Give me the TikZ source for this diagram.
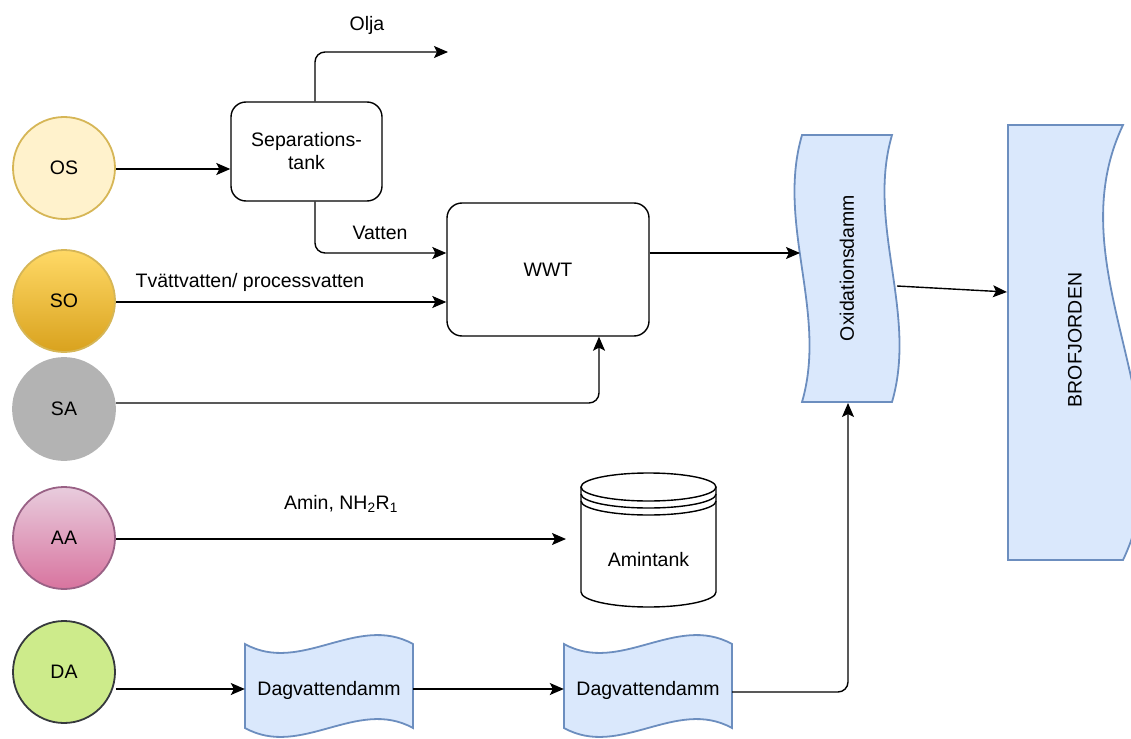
\documentclass[tikz,border=0pt]{standalone}
\usepackage{fontspec}
\setmainfont{Liberation Sans}
\usetikzlibrary{arrows.meta}
\definecolor{blueF}{HTML}{DAE8FC}
\definecolor{blueS}{HTML}{6C8EBF}
\definecolor{osF}{HTML}{FFF2CC}
\definecolor{osS}{HTML}{D6B656}
\definecolor{soT}{HTML}{FFD966}
\definecolor{soB}{HTML}{D9A21E}
\definecolor{soS}{HTML}{D6B656}
\definecolor{saF}{HTML}{B3B3B3}
\definecolor{aaT}{HTML}{E8CCDD}
\definecolor{aaB}{HTML}{D8749F}
\definecolor{aaS}{HTML}{996185}
\definecolor{daF}{HTML}{CDEB8B}
\definecolor{daS}{HTML}{36393D}
\tikzset{
  txt/.style={font=\fontsize{19.5}{23}\selectfont, align=center, inner sep=0pt},
  src/.style={circle, minimum size=102pt, inner sep=0pt, line width=1.8pt, txt},
  proc/.style={draw, line width=1.4pt, rounded corners=15pt, txt},
  wavy/.style={draw=blueS, fill=blueF, line width=1.8pt},
  ghost/.style={draw=none, txt},
  flow/.style={line width=1.4pt, -{Stealth[length=14pt, width=12pt, inset=3pt]}, rounded corners=10pt},
}
\begin{document}
\begin{tikzpicture}[x=1pt, y=-1pt]
\useasboundingbox (0,0) rectangle (1131,738);
% source circles
\node[src, draw=osS, fill=osF] (OS) at (64,168) {OS};
\node[src, draw=soS, top color=soT, bottom color=soB] (SO) at (64,301) {SO};
\node[src, draw=saF, fill=saF] (SA) at (64,409) {SA};
\node[src, draw=aaS, top color=aaT, bottom color=aaB] (AA) at (64,538) {AA};
\node[src, draw=daS, fill=daF] (DA) at (64,672) {DA};
% process boxes
\node[proc, minimum width=151pt, minimum height=99pt] (sep) at (306.5,151.5) {Separations-\\tank};
\node[proc, minimum width=202pt, minimum height=133pt] (wwt) at (548,269.5) {WWT};
% Oxidationsdamm (vertical tape)
\path[wavy] (802,135) -- (892,135) .. controls (866,224) and (918,313) .. (892,402)
  -- (802,402) .. controls (828,313) and (776,224) .. (802,135) -- cycle;
\node[ghost, rotate=90] (oxi) at (847,268) {Oxidationsdamm};
% BROFJORDEN (document shape)
\path[wavy] (1008,125) -- (1123,125) .. controls (1054,270) and (1192,415) .. (1123,560)
  -- (1008,560) -- cycle;
\node[ghost, rotate=90] (bro) at (1075,340) {BROFJORDEN};
% Amintank (data store)
\draw[line width=1.4pt, fill=white] (581,487) -- (581,592) arc[start angle=180, end angle=360, x radius=67.5, y radius=-15] -- (716,487);
\draw[line width=1.4pt] (648.5,487) ellipse [x radius=67.5, y radius=14];
\draw[line width=1.4pt] (581,494) arc[start angle=180, end angle=360, x radius=67.5, y radius=-14];
\draw[line width=1.4pt] (581,501) arc[start angle=180, end angle=360, x radius=67.5, y radius=-14];
\node[ghost] (amin) at (648.5,560) {Amintank};
% Dagvattendamm ponds (tape)
\path[wavy] (245,644) .. controls (301,675) and (357,613) .. (413,644) -- (413,728)
  .. controls (357,697) and (301,759) .. (245,728) -- cycle;
\node[ghost, minimum width=168pt, minimum height=60pt] (dag1) at (329,690) {Dagvattendamm};
\path[wavy] (564,644) .. controls (620,675) and (676,613) .. (732,644) -- (732,728)
  .. controls (676,697) and (620,759) .. (564,728) -- cycle;
\node[ghost, minimum width=168pt, minimum height=60pt] (dag2) at (648,690) {Dagvattendamm};
% free connector ends
\coordinate (oljaEnd) at (448,52);
\coordinate (oxiIn) at (800,253);
\coordinate (oxiOut) at (897,286);
\coordinate (oxiBot) at (848,403);
\coordinate (broIn) at (1007,292);
\coordinate (aminEnd) at (566,539);
% connectors
\draw[flow] (OS.east |- 0,169) -- (sep.west |- 0,169);
\draw[flow] (sep.north -| 315,0) -- (315,52) -- (oljaEnd);
\node[txt] (olja) at (367,25) {Olja};
\draw[flow] (sep.south -| 315,0) -- (315,253) -- (wwt.west |- 0,253);
\node[txt] (vatten) at (380,233) {Vatten};
\draw[flow] (SO.east |- 0,302) -- (wwt.west |- 0,302);
\node[txt] (tv) at (250,282) {Tvättvatten/ processvatten};
\draw[flow] (SA.east |- 0,403) -- (599,403) -- (wwt.south -| 599,0);
\draw[flow] (wwt.east |- 0,253) -- (oxiIn);
\draw[flow, rounded corners=0pt] (oxiOut) -- (broIn);
\draw[flow] (AA.east |- 0,539) -- (aminEnd);
\node[txt] (aminlbl) at (341,504) {Amin, NH\textsubscript{2}R\textsubscript{1}};
\draw[flow] (DA.east |- 0,689) -- (dag1.west |- 0,689);
\draw[flow] (dag1.east |- 0,689) -- (dag2.west |- 0,689);
\draw[flow] (dag2.east |- 0,692) -- (848,692) -- (oxiBot);
\end{tikzpicture}
\end{document}
